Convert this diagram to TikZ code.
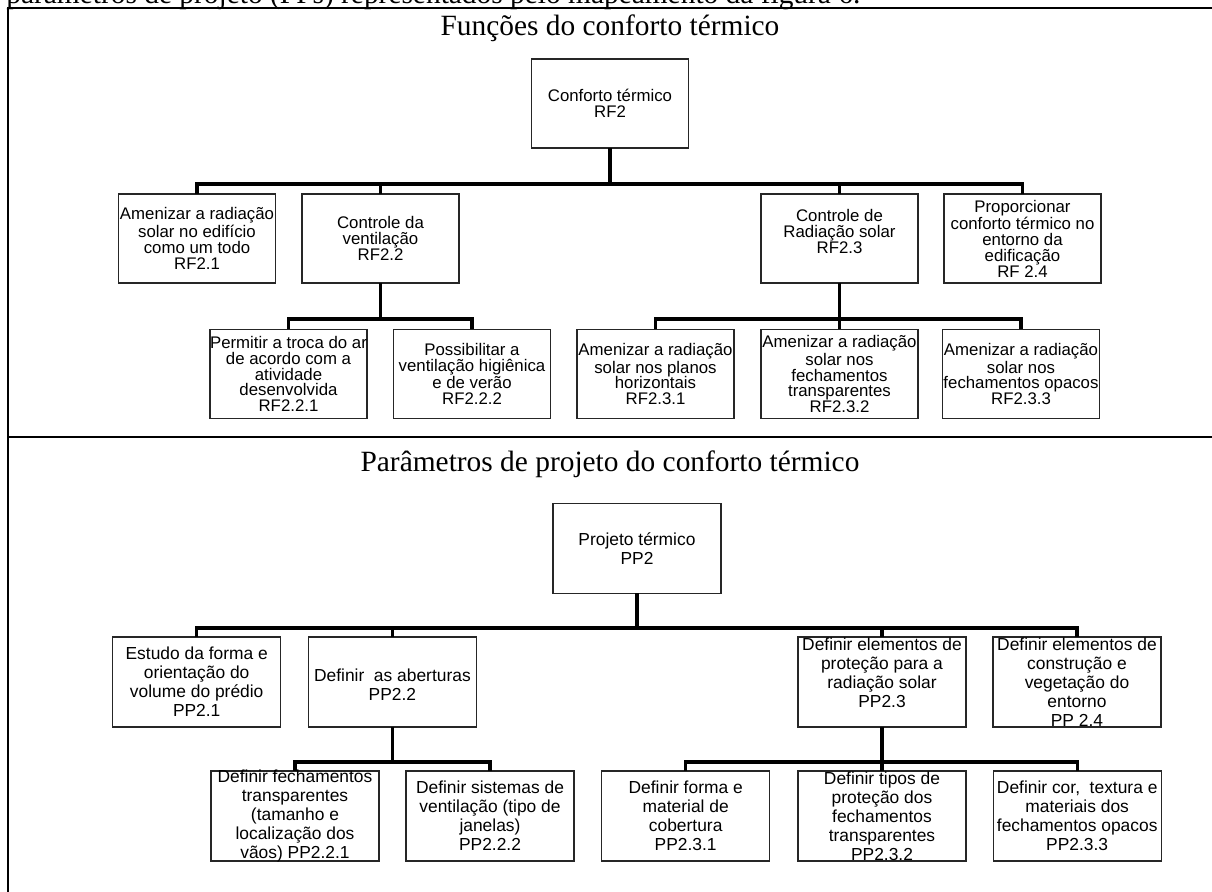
\documentclass[tikz,border=0pt]{standalone}
\usepackage{fontspec}
\setmainfont{Liberation Serif}
\setsansfont{Liberation Sans}
\begin{document}
\begin{tikzpicture}[x=0.5pt,y=-0.5pt,
  boxa/.style={draw=black!85, line width=0.65pt, minimum width=78.5pt, minimum height=44.5pt, inner sep=0pt, outer sep=0pt},
  boxb/.style={boxa, minimum width=84pt, minimum height=45pt},
  ta/.style={font=\sffamily\fontsize{8.4pt}{7.85pt}\selectfont, align=center, inner sep=0pt},
  tb/.style={font=\sffamily\fontsize{8.7pt}{9.5pt}\selectfont, align=center, inner sep=0pt},
  conn/.style={line width=1.6pt},
  frm/.style={line width=1.3pt},
  ttl/.style={font=\fontsize{14.7pt}{17pt}\selectfont, anchor=base, inner sep=0pt}]
\useasboundingbox (0,0) rectangle (1212,892);
\begin{scope}
\clip (0,0) rectangle (1212,892);
\node[ttl, anchor=base west] (toptext) at (6,4) {parâmetros de projeto (PPs) representados pelo mapeamento da figura 6.};
\end{scope}
% frame
\coordinate (tl) at (8,8);
\coordinate (tr) at (1212,8);
\coordinate (bl) at (8,892);
\coordinate (ml) at (8,437);
\coordinate (mr) at (1212,437);
\draw[frm] (tr) -- (tl) -- (bl);
\draw[frm] (ml) -- (mr);
% titles
\node[ttl] (t1) at (610,36) {Funções do conforto térmico};
\node[ttl] (t2) at (610,472) {Parâmetros de projeto do conforto térmico};
% ---------- section 1 ----------
\node[boxa, label={[ta,name=rf2t]center:{Conforto térmico\\RF2}}] (rf2) at (610,103.5) {};
\node[boxa, label={[ta,name=rf21t]center:{Amenizar a radiação\\solar no edifício\\como um todo\\RF2.1}}] (rf21) at (197,238.5) {};
\node[boxa, label={[ta,name=rf22t]center:{Controle da\\ventilação\\RF2.2}}] (rf22) at (380.5,238.5) {};
\node[boxa, label={[ta,yshift=3.5pt,name=rf23t]center:{Controle de\\Radiação solar\\RF2.3}}] (rf23) at (839.5,238.5) {};
\node[boxa, label={[ta,name=rf24t]center:{Proporcionar\\conforto térmico no\\entorno da\\edificação\\RF 2.4}}] (rf24) at (1022.5,238.5) {};
\node[boxa, label={[ta,name=rf221t]center:{Permitir a troca do ar\\de acordo com a\\atividade\\desenvolvida\\RF2.2.1}}] (rf221) at (288.5,374) {};
\node[boxa, label={[ta,name=rf222t]center:{Possibilitar a\\ventilação higiênica\\e de verão\\RF2.2.2}}] (rf222) at (472,374) {};
\node[boxa, label={[ta,name=rf231t]center:{Amenizar a radiação\\solar nos planos\\horizontais\\RF2.3.1}}] (rf231) at (655.5,374) {};
\node[boxa, label={[ta,name=rf232t]center:{Amenizar a radiação\\solar nos\\fechamentos\\transparentes\\RF2.3.2}}] (rf232) at (839.5,374) {};
\node[boxa, label={[ta,name=rf233t]center:{Amenizar a radiação\\solar nos\\fechamentos opacos\\RF2.3.3}}] (rf233) at (1021,374) {};
\coordinate (bus1) at (0,184);
\coordinate (bus2) at (0,319);
\draw[conn] (rf2.south) -- (rf2.south |- bus1);
\draw[conn] (rf21.north) -- (rf21.north |- bus1) -| (rf24.north);
\draw[conn] (rf22.north) -- (rf22.north |- bus1);
\draw[conn] (rf23.north) -- (rf23.north |- bus1);
\draw[conn] (rf22.south) -- (rf22.south |- bus2);
\draw[conn] (rf221.north) -- (rf221.north |- bus2) -| (rf222.north);
\draw[conn] (rf23.south) -- (rf23.south |- bus2);
\draw[conn] (rf231.north) -- (rf231.north |- bus2) -| (rf233.north);
\draw[conn] (rf232.north) -- (rf232.north |- bus2);
% ---------- section 2 ----------
\node[boxb, label={[tb,name=pp2t]center:{Projeto térmico\\PP2}}] (pp2) at (637,548.5) {};
\node[boxb, label={[tb,name=pp21t]center:{Estudo da forma e\\orientação do\\volume do prédio\\PP2.1}}] (pp21) at (196.7,682) {};
\node[boxb, label={[tb,yshift=-1.5pt,name=pp22t]center:{Definir\ \ as aberturas\\PP2.2}}] (pp22) at (392.4,682) {};
\node[boxb, label={[tb,yshift=4.5pt,name=pp23t]center:{Definir elementos de\\proteção para a\\radiação solar\\PP2.3}}] (pp23) at (882,682) {};
\node[boxb, label={[tb,name=pp24t]center:{Definir elementos de\\construção e\\vegetação do\\entorno\\PP 2.4}}] (pp24) at (1077,682) {};
\node[boxb, label={[tb,name=pp221t]center:{Definir fechamentos\\transparentes\\(tamanho e\\localização dos\\vãos) PP2.2.1}}] (pp221) at (295,816) {};
\node[boxb, label={[tb,name=pp222t]center:{Definir sistemas de\\ventilação (tipo de\\janelas)\\PP2.2.2}}] (pp222) at (490,816) {};
\node[boxb, label={[tb,name=pp231t]center:{Definir forma e\\material de\\cobertura\\PP2.3.1}}] (pp231) at (685.7,816) {};
\node[boxb, label={[tb,name=pp232t]center:{Definir tipos de\\proteção dos\\fechamentos\\transparentes\\PP2.3.2}}] (pp232) at (882,816) {};
\node[boxb, label={[tb,name=pp233t]center:{Definir cor,\ \ textura e\\materiais dos\\fechamentos opacos\\PP2.3.3}}] (pp233) at (1077.2,816) {};
\coordinate (bus3) at (0,628);
\coordinate (bus4) at (0,762);
\draw[conn] (pp2.south) -- (pp2.south |- bus3);
\draw[conn] (pp21.north) -- (pp21.north |- bus3) -| (pp24.north);
\draw[conn] (pp22.north) -- (pp22.north |- bus3);
\draw[conn] (pp23.north) -- (pp23.north |- bus3);
\draw[conn] (pp22.south) -- (pp22.south |- bus4);
\draw[conn] (pp221.north) -- (pp221.north |- bus4) -| (pp222.north);
\draw[conn] (pp23.south) -- (pp23.south |- bus4);
\draw[conn] (pp231.north) -- (pp231.north |- bus4) -| (pp233.north);
\draw[conn] (pp232.north) -- (pp232.north |- bus4);
\end{tikzpicture}
\end{document}
